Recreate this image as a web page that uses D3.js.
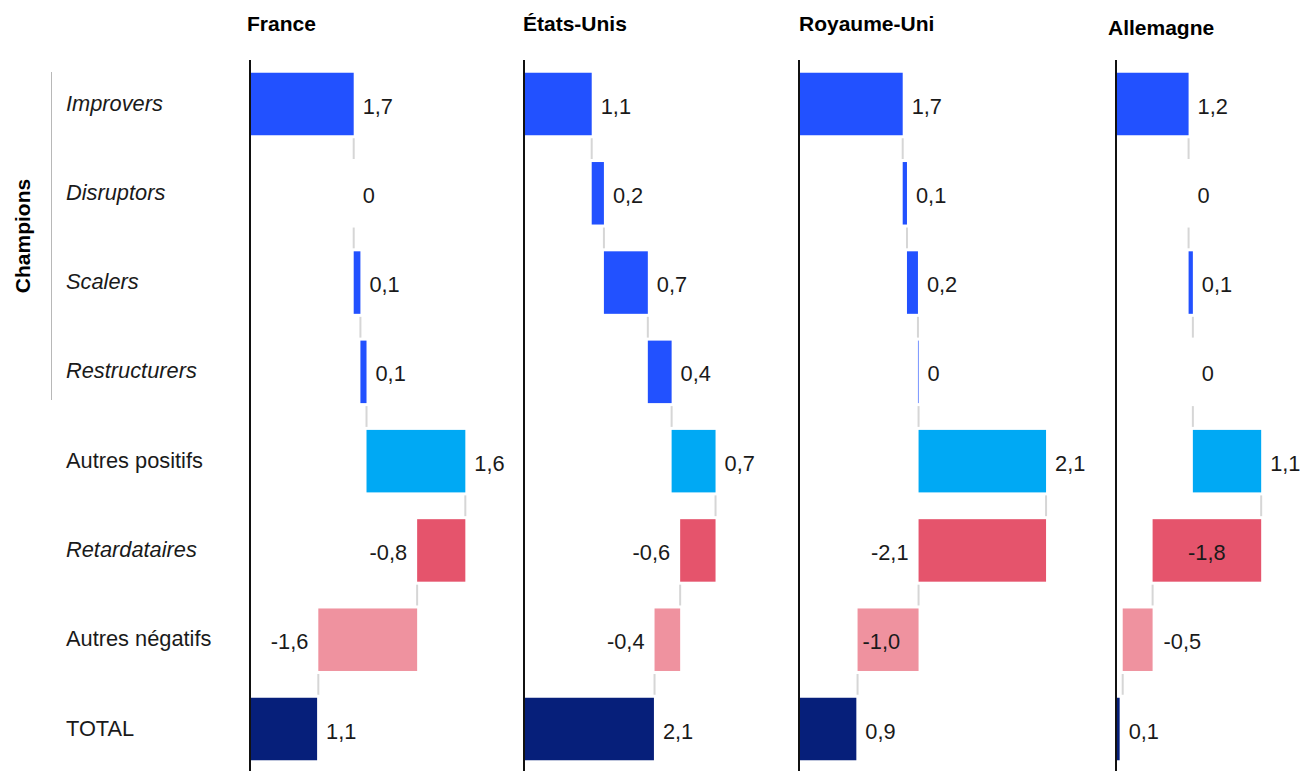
<!DOCTYPE html>
<html lang="fr">
<head>
<meta charset="utf-8">
<title>Champions - cascade par pays</title>
<script src="https://cdn.jsdelivr.net/npm/d3@7.9.0/dist/d3.min.js"></script>
<style>
  body { margin: 0; background: #fff; }
  svg { display: block; font-family: "Liberation Sans", Arial, sans-serif; }
</style>
</head>
<body>
<svg id="chart" width="1304" height="771"></svg>
<script>
// Categories (rows) and countries (panels)
const categories = ['Improvers', 'Disruptors', 'Scalers', 'Restructurers',
  'Autres positifs', 'Retardataires', 'Autres négatifs', 'TOTAL'];
const italicRows = ['Improvers', 'Disruptors', 'Scalers', 'Restructurers', 'Retardataires'];
const countries = ['France', 'États-Unis', 'Royaume-Uni', 'Allemagne'];

// Values per country, same order as categories (last one is TOTAL)
const france     = [1.70, 0,    0.11, 0.10, 1.62, -0.79, -1.62, 1.10];
const etatsUnis  = [1.11, 0.20, 0.72, 0.39, 0.72, -0.58, -0.42, 2.13];
const royaumeUni = [1.70, 0.07, 0.18, 0.01, 2.09, -2.09, -1.00, 0.94];
const allemagne  = [1.19, 0,    0.07, 0,    1.12, -1.78, -0.49, 0.06];
const seriesValues = [france, etatsUnis, royaumeUni, allemagne];

// Layout
const panelX = [250, 524, 799, 1116];
const titleDx = [-3, -1, 0, -8];
const titleY = [31, 31, 31, 35];

const colors = {
  'Improvers': '#2251ff', 'Disruptors': '#2251ff', 'Scalers': '#2251ff',
  'Restructurers': '#2251ff', 'Autres positifs': '#00a9f4',
  'Retardataires': '#e5546c', 'Autres négatifs': '#ef929f', 'TOTAL': '#061f7a'
};

const locale = d3.formatLocale({
  decimal: ',', thousands: ' ', grouping: [3], currency: ['', ' €'], minus: '-'
});
const fmt1 = locale.format('.1f');
function formatValue(v) {
  return Math.abs(v) < 0.05 ? '0' : fmt1(v);
}

const svg = d3.select('#chart');

const y = d3.scaleBand()
  .domain(categories)
  .range([59.35, 773.65])
  .paddingInner(0.3)
  .paddingOuter(0.15);

const x = d3.scaleLinear().domain([0, 4.5]).range([0, 274.5]);

// Row labels
svg.append('g')
  .selectAll('text')
  .data(categories)
  .join('text')
  .attr('x', 66)
  .attr('y', (d) => y(d) + y.bandwidth() / 2 - 1)
  .attr('dy', '0.35em')
  .attr('font-size', 21.8)
  .attr('font-style', (d) => (italicRows.includes(d) ? 'italic' : 'normal'))
  .attr('fill', '#1a1a1a')
  .text((d) => d);

// Champions group bracket
svg.append('line')
  .attr('x1', 51.5).attr('x2', 51.5)
  .attr('y1', 72)
  .attr('y2', 400)
  .attr('stroke', '#b8b8b8')
  .attr('stroke-width', 1);

svg.append('text')
  .attr('transform', `translate(30,${(72 + 400) / 2}) rotate(-90)`)
  .attr('text-anchor', 'middle')
  .attr('font-size', 21)
  .attr('font-weight', 'bold')
  .attr('fill', '#000')
  .text('Champions');

// One waterfall per country
countries.forEach((country, ci) => {
  const values = seriesValues[ci];
  const g = svg.append('g').attr('transform', `translate(${panelX[ci]},0)`);

  // build start/end for each step
  let cum = 0;
  const steps = categories.map((cat, i) => {
    const v = values[i];
    let start, end;
    if (cat === 'TOTAL') {
      start = 0; end = v;
    } else {
      start = cum; end = cum + v; cum = end;
    }
    return { cat, v, start, end };
  });

  // title
  svg.append('text')
    .attr('x', panelX[ci] + titleDx[ci])
    .attr('y', titleY[ci])
    .attr('font-size', 21)
    .attr('font-weight', 'bold')
    .attr('fill', '#000')
    .text(country);

  // connectors
  g.selectAll('line.conn')
    .data(steps.slice(0, -1))
    .join('line')
    .attr('class', 'conn')
    .attr('x1', (d) => x(d.end))
    .attr('x2', (d) => x(d.end))
    .attr('y1', (d) => y(d.cat) + y.bandwidth() + 3)
    .attr('y2', (d, i) => y(categories[i + 1]) - 3)
    .attr('stroke', '#d6d6d6')
    .attr('stroke-width', 2);

  // bars
  g.selectAll('rect')
    .data(steps.filter((d) => d.v !== 0))
    .join('rect')
    .attr('x', (d) => x(Math.min(d.start, d.end)))
    .attr('y', (d) => y(d.cat))
    .attr('width', (d) => Math.max(0.6, Math.abs(x(d.end) - x(d.start))))
    .attr('height', y.bandwidth())
    .attr('fill', (d) => colors[d.cat]);

  // value labels
  g.selectAll('text.val')
    .data(steps)
    .join('text')
    .attr('class', 'val')
    .attr('font-size', 21.8)
    .attr('fill', '#1a1a1a')
    .attr('y', (d) => y(d.cat) + y.bandwidth() / 2 + 2)
    .attr('dy', '0.35em')
    .each(function (d) {
      const t = d3.select(this);
      const left = x(Math.min(d.start, d.end));
      const right = x(Math.max(d.start, d.end));
      if (d.v >= 0) {
        t.attr('x', right + 9).attr('text-anchor', 'start');
      } else if (left >= 62) {
        t.attr('x', left - 10).attr('text-anchor', 'end');
      } else if (right - left > 70) {
        t.attr('x', (left + right) / 2).attr('text-anchor', 'middle');
      } else if (right - left > 50) {
        t.attr('x', left + 5).attr('text-anchor', 'start');
      } else {
        t.attr('x', right + 11).attr('text-anchor', 'start');
      }
    })
    .text((d) => formatValue(d.v));

  // vertical axis line
  g.append('line')
    .attr('x1', 0).attr('x2', 0)
    .attr('y1', 60).attr('y2', 771)
    .attr('stroke', '#111')
    .attr('stroke-width', 2);
});
</script>
</body>
</html>
